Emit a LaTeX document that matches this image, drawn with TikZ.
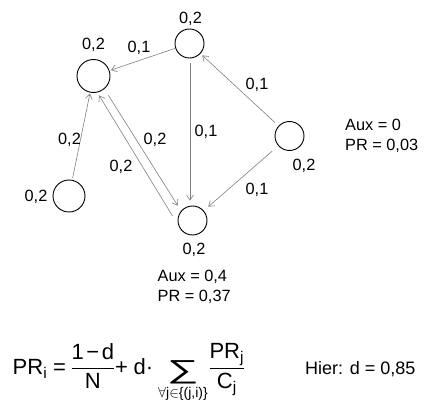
\documentclass[tikz,border=0pt]{standalone}
\usepackage{amsmath}
\usepackage{graphicx}
\usepackage{fontspec}
\setmainfont{Liberation Sans}
\usetikzlibrary{arrows.meta}
\tikzset{
  pnode/.style={circle,draw=black,line width=0.9pt,inner sep=0pt,minimum size=29pt},
  bignode/.style={pnode,minimum size=33pt},
  edge/.style={draw=black!50,line width=0.6pt,-{Straight Barb[length=5pt,width=7pt]}},
  lbl/.style={font=\fontsize{16.3}{18}\selectfont,inner sep=0pt,anchor=base},
  info/.style={font=\fontsize{16.3}{18}\selectfont,inner sep=0pt,anchor=base west}
}
\begin{document}
\begin{tikzpicture}[x=1pt,y=-1pt]
\useasboundingbox (0,0) rectangle (429,404);
\node[bignode] (A) at (93.5,76) {};
\node[pnode] (B) at (189.5,43.5) {};
\node[pnode] (C) at (289.5,136) {};
\node[pnode] (D) at (192.5,220.5) {};
\node[bignode,minimum size=32pt] (E) at (69,196) {};
% node values
\node[lbl] (lA) at (93.5,50) {0,2};
\node[lbl] (lB) at (190.5,23.3) {0,2};
\node[lbl] (lC) at (304,170) {0,2};
\node[lbl] (lD) at (194,254) {0,2};
\node[lbl] (lE) at (36,201) {0,2};
% edges
\draw[edge,shorten >=1.5pt] (B) -- (A);
\draw[edge,shorten <=5pt,shorten >=2.5pt] (C) -- (B);
\draw[edge,shorten <=5pt,shorten >=5pt] ([xshift=0.5pt]B.south) -- ([xshift=0.5pt]B.south |- D.north);
\draw[edge,shorten <=8pt,shorten >=6pt] (C) -- (D);
\draw[edge,shorten <=2pt,shorten >=1pt] (E) -- (A);
\draw[edge,shorten <=11.5pt,shorten >=3.4pt] (D.201.5) -- (A.-77);
\draw[edge,shorten <=7.4pt,shorten >=6.2pt] (A.-50.4) -- (D.140.4);
% edge labels
\node[lbl] (eBA) at (139,52.7) {0,1};
\node[lbl] (eCB) at (257,90) {0,1};
\node[lbl] (eBD) at (206,137) {0,1};
\node[lbl] (eCD) at (257,194) {0,1};
\node[lbl] (eEA) at (69.5,144) {0,2};
\node[lbl] (eAD) at (155,144) {0,2};
\node[lbl] (eDA) at (121,171.7) {0,2};
% info
\node[info] (iC1) at (345,131) {Aux = 0};
\node[info] (iC2) at (345,150) {PR = 0,03};
\node[info] (iD1) at (157.5,281.7) {Aux = 0,4};
\node[info] (iD2) at (157.5,301.5) {PR = 0,37};
% formula
\node[inner sep=0pt,anchor=base west,font=\fontsize{22}{26}\selectfont] (F) at (12.5,374)
 {$\displaystyle \text{PR}_{\text{i}}\hspace{6pt}\text{=}\hspace{4.5pt}{\frac{\text{1\hspace{2.5pt}−\hspace{2.5pt}d}}{\text{N}}}\text{+}\hspace{5.6pt}\text{d·}\hspace{1.5pt}\mathop{\raisebox{-4pt}{\scalebox{1.7}[1]{\fontsize{26}{26}\selectfont ∑}}}\limits_{\text{\fontsize{14}{14}\selectfont$\forall$j$\in$\{(j,i)\}}}\hspace{-2.8pt}{\frac{\text{PR}_{\text{j}}}{\text{C}_{\text{j}}}}$};
\node[inner sep=0pt,anchor=base west,font=\fontsize{18}{21}\selectfont] (H) at (305,374) {Hier: d = 0,85};
\end{tikzpicture}
\end{document}
